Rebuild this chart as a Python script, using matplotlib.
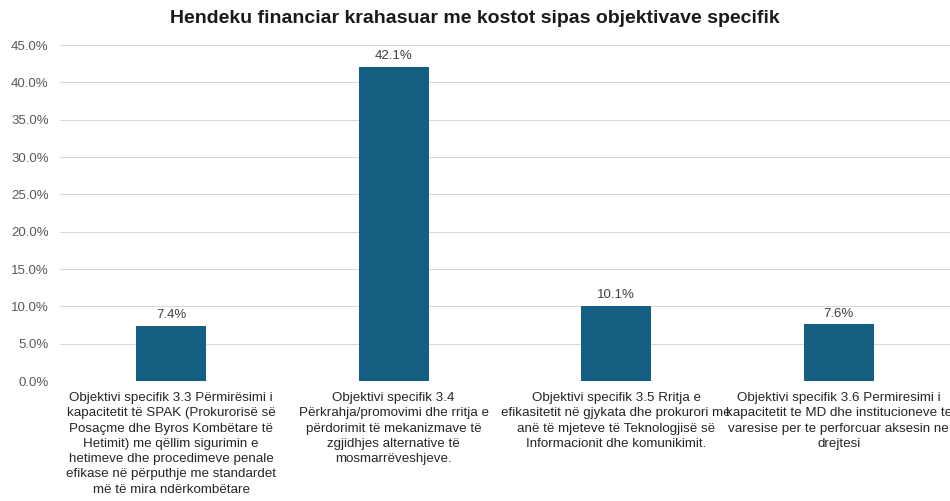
import matplotlib.pyplot as plt
from matplotlib.ticker import PercentFormatter

categories = [
    "Objektivi specifik 3.3 Përmirësimi i\nkapacitetit të SPAK (Prokurorisë së\nPosaçme dhe Byros Kombëtare të\nHetimit) me qëllim sigurimin e\nhetimeve dhe procedimeve penale\nefikase në përputhje me standardet\nmë të mira ndërkombëtare",
    "Objektivi specifik 3.4\nPërkrahja/promovimi dhe rritja e\npërdorimit të mekanizmave të\nzgjidhjes alternative të\nmosmarrëveshjeve.",
    "Objektivi specifik 3.5 Rritja e\nefikasitetit në gjykata dhe prokurori me\nanë të mjeteve të Teknologjisë së\nInformacionit dhe komunikimit.",
    "Objektivi specifik 3.6 Permiresimi i\nkapacitetit te MD dhe institucioneve te\nvaresise per te perforcuar aksesin ne\ndrejtesi",
]
values = [7.4, 42.1, 10.1, 7.6]

plt.rcParams['font.family'] = ['Liberation Sans', 'DejaVu Sans']

fig = plt.figure(figsize=(9.5, 5.01), dpi=100)
ax = fig.add_axes([0.063, 0.2395, 0.937, 0.6705])

x = range(len(values))
bars = ax.bar(x, values, width=0.315, color='#156082', zorder=3)
for b, v in zip(bars, values):
    ax.text(b.get_x() + b.get_width() / 2, v + 0.6, f"{v:.1f}%",
            ha='center', va='bottom', fontsize=9.5, color='#404040')

ax.set_xlim(-0.5, len(values) - 0.5)
ax.set_ylim(0, 45)
ax.set_yticks([i * 5 for i in range(10)])
ax.yaxis.set_major_formatter(PercentFormatter(decimals=1))
ax.grid(axis='y', color='#d9d9d9', linewidth=0.8, zorder=0)
for s in ax.spines.values():
    s.set_visible(False)
ax.tick_params(axis='y', length=0, labelsize=9.5, labelcolor='#595959', pad=8)
ax.tick_params(axis='x', length=0, pad=8)
ax.set_xticks(list(x))
ax.set_xticklabels(categories, fontsize=9.6, color='#262626', linespacing=1.36)

fig.suptitle("Hendeku financiar krahasuar me kostot sipas objektivave specifik",
             fontsize=14, fontweight='bold', color='#1a1a1a', y=0.98)

fig.savefig("out.png", dpi=100)
